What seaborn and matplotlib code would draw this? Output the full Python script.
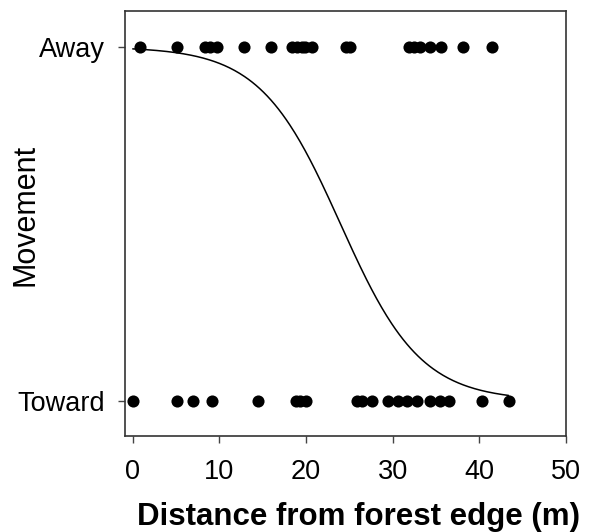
import numpy as np
import pandas as pd
import matplotlib
matplotlib.use('Agg')
import matplotlib.pyplot as plt
import seaborn as sns

away_x = [0.8, 5.1, 8.3, 8.9, 9.7, 12.8, 16.0, 18.4, 19.0, 19.5, 19.9, 20.7,
          24.6, 25.1, 31.9, 32.5, 33.2, 34.3, 35.6, 38.1, 41.5]
toward_x = [0.0, 5.1, 7.0, 9.2, 14.5, 18.8, 19.3, 20.0, 25.9, 26.5, 27.6,
            29.5, 30.6, 31.7, 32.8, 34.3, 35.5, 36.5, 40.3, 43.4]

# fitted logistic model: P(away) = 1 / (1 + exp(-(b0 + b1 * x)))
b0 = 5.18
b1 = -0.216
curve_xmax = 43.4

df = pd.DataFrame({
    'dist': away_x + toward_x,
    'move': [1] * len(away_x) + [0] * len(toward_x),
})
xs = np.linspace(0, curve_xmax, 300)
fit = pd.DataFrame({'dist': xs, 'p': 1 / (1 + np.exp(-(b0 + b1 * xs)))})

sns.set_style('ticks')
plt.rcParams['font.family'] = ['Liberation Sans', 'DejaVu Sans']

fig = plt.figure(figsize=(5.89, 5.32), dpi=100)
ax = fig.add_axes([0.2114, 0.181, 0.7491, 0.798])

sns.lineplot(data=fit, x='dist', y='p', color='black', linewidth=1.1, ax=ax)
sns.scatterplot(data=df, x='dist', y='move', color='black', s=76,
                edgecolor='black', linewidth=0, ax=ax, zorder=3, clip_on=False)

ax.set_xlim(-0.95, 50)
ax.set_ylim(-0.099, 1.101)
ax.set_xticks([0, 10, 20, 30, 40, 50])
ax.set_yticks([0, 1])
ax.set_yticklabels(['Toward', 'Away'])
ax.tick_params(axis='both', direction='out', length=5, width=1, color='#444444',
               labelcolor='black')
ax.tick_params(axis='x', labelsize=19.5, pad=12)
ax.tick_params(axis='y', labelsize=19.5, pad=9)
for s in ax.spines.values():
    s.set_visible(True)
    s.set_linewidth(1.2)
    s.set_color('#333333')

ax.set_xlabel('Distance from forest edge (m)', fontsize=22.5, fontweight='bold',
              color='black')
ax.xaxis.set_label_coords(0.53, -0.155)
ax.set_ylabel('Movement', fontsize=22, color='black')
ax.yaxis.set_label_coords(-0.19, 0.52)

fig.savefig('out.png', dpi=100)
